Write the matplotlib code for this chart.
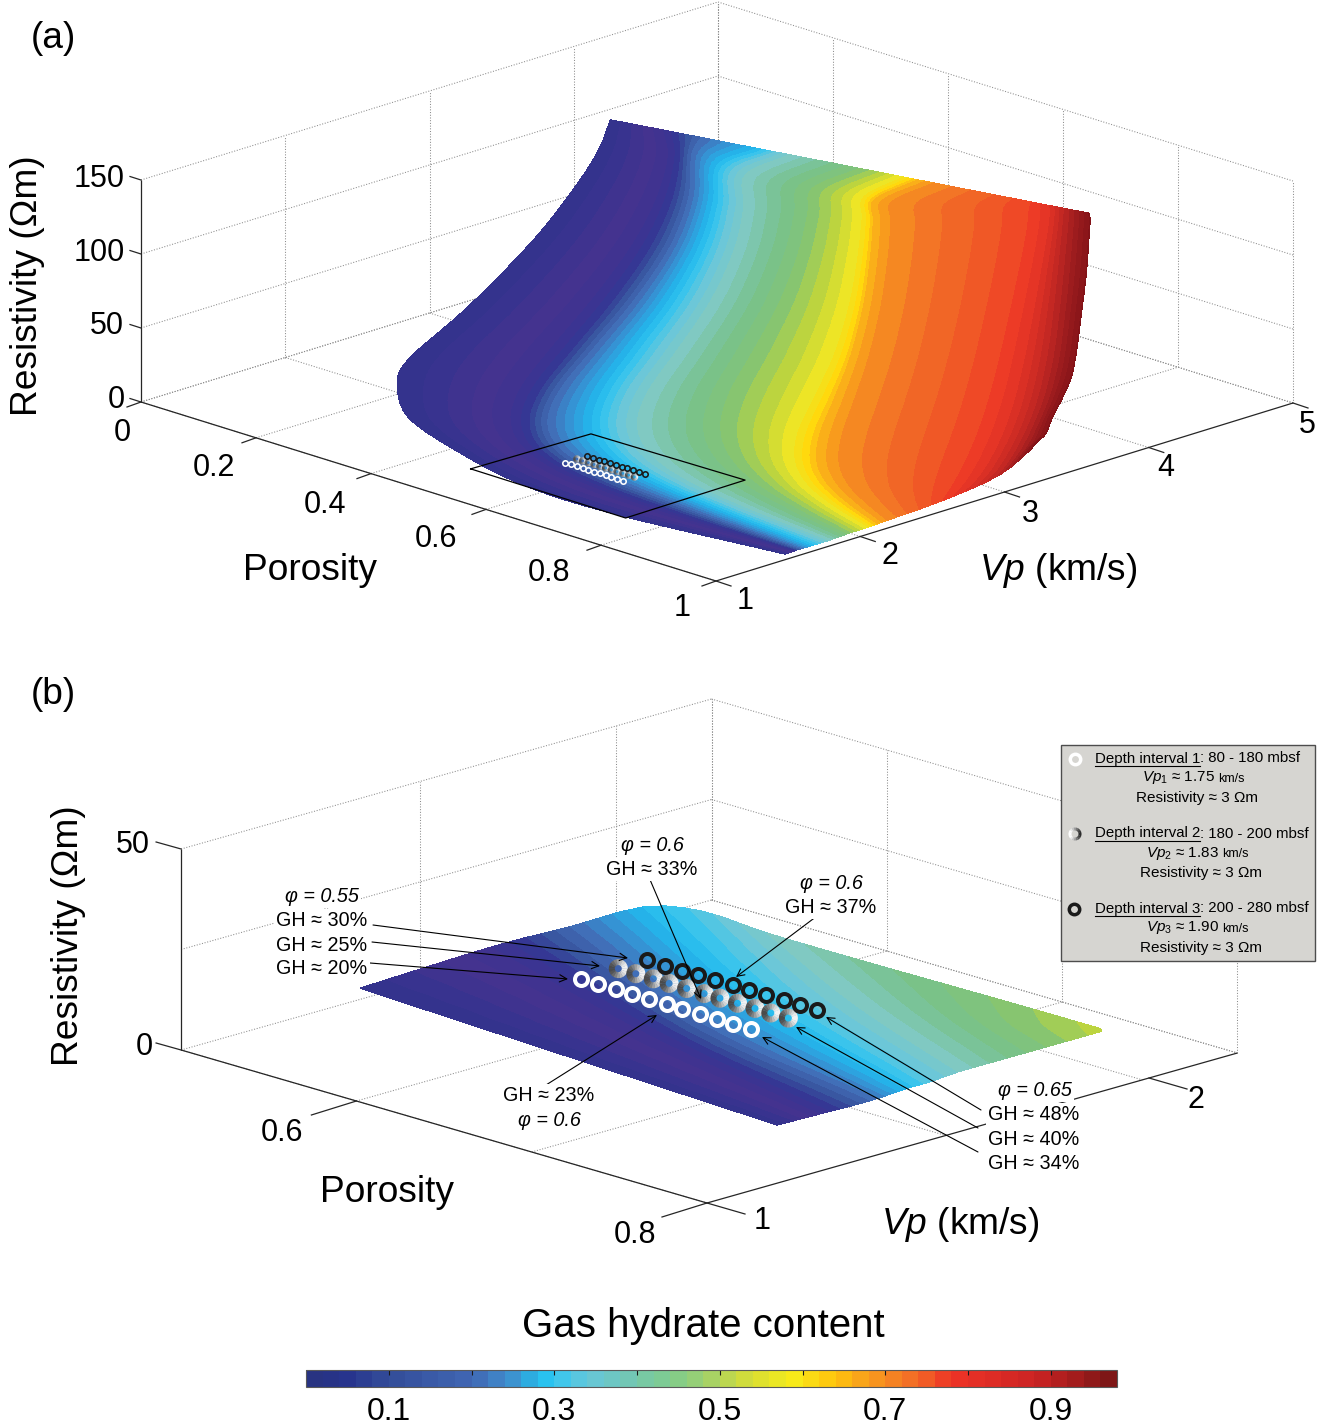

import numpy as np, matplotlib
matplotlib.use('Agg')
import matplotlib.pyplot as plt
from matplotlib.colors import ListedColormap, BoundaryNorm, LinearSegmentedColormap
from matplotlib.cm import ScalarMappable
from matplotlib.patches import Wedge, Rectangle
from matplotlib.ticker import NullLocator
from matplotlib.tri import Triangulation

plt.rcParams['font.family'] = ['Liberation Sans', 'DejaVu Sans']
plt.rcParams['mathtext.fontset'] = 'custom'
plt.rcParams['mathtext.rm'] = 'Liberation Sans'
plt.rcParams['mathtext.it'] = 'Liberation Sans:italic'

# ---------------- data: panel (a) surface, rows along gas hydrate isolines
gh_a = [0, .1, .2, .3, .4, .5, .6, .7, .8, .9, 1.0]
phi_a = [
[1.00,1.00,1.00,1.00,1.00,1.00,1.00,1.00,1.00,1.00,1.00],
[0.75,0.78,0.80,0.82,0.85,0.88,0.90,0.92,0.95,0.98,1.00],
[0.60,0.64,0.68,0.72,0.76,0.80,0.84,0.88,0.92,0.96,1.00],
[0.42,0.48,0.54,0.59,0.65,0.71,0.77,0.83,0.88,0.94,1.00],
[0.30,0.37,0.44,0.51,0.58,0.65,0.72,0.79,0.86,0.93,1.00],
[0.25,0.32,0.40,0.48,0.55,0.62,0.70,0.77,0.85,0.92,1.00],
[0.22,0.30,0.38,0.45,0.53,0.61,0.69,0.77,0.84,0.92,1.00],
[0.20,0.28,0.36,0.44,0.52,0.60,0.68,0.76,0.84,0.92,1.00],
[0.19,0.27,0.35,0.43,0.51,0.60,0.68,0.76,0.84,0.92,1.00],
[0.18,0.26,0.34,0.43,0.51,0.59,0.67,0.75,0.84,0.92,1.00],
[0.17,0.25,0.34,0.42,0.50,0.58,0.67,0.75,0.83,0.92,1.00],
[0.17,0.25,0.34,0.42,0.50,0.58,0.67,0.75,0.83,0.92,1.00]]
vp_a = [
[1.479,1.543,1.591,1.672,1.785,1.914,2.059,2.189,2.576,2.963,3.189],
[1.281,1.355,1.372,1.454,1.721,1.989,2.168,2.346,2.807,3.075,3.205],
[1.233,1.397,1.463,1.513,1.725,2.050,2.229,2.376,2.975,3.187,3.237],
[1.467,1.679,1.698,1.790,1.873,2.231,2.411,2.447,3.199,3.315,3.286],
[1.655,1.989,1.936,2.012,2.023,2.325,2.627,2.703,3.392,3.436,3.334],
[1.783,2.285,2.257,2.228,2.272,2.574,2.868,2.879,3.496,3.572,3.415],
[1.974,2.574,2.530,2.509,2.513,2.743,3.085,2.976,3.601,3.637,3.480],
[2.473,3.058,3.061,3.017,3.005,3.138,3.238,3.145,3.698,3.669,3.544],
[2.965,3.356,3.327,3.186,3.109,3.186,3.270,3.161,3.762,3.702,3.570],
[3.295,3.638,3.545,3.315,3.190,3.290,3.343,3.217,3.827,3.734,3.586],
[3.496,3.661,3.464,3.323,3.197,3.346,3.343,3.217,3.851,3.734,3.592],
[3.577,3.629,3.528,3.597,3.504,3.669,3.617,3.508,3.867,3.734,3.583]]
res_a = [
[3.9,4.2,4.3,4.1,4.1,4.7,4.9,5.5,7.3,12.6,23.8],
[7.0,11.8,19.4,21.6,11.5,6.0,4.1,2.3,-1.2,10.2,25.6],
[10.6,12.8,20.1,24.6,17.4,10.2,9.7,10.1,-3.1,7.8,28.0],
[6.6,2.9,9.6,15.2,15.4,8.5,9.2,14.3,-3.4,9.4,31.0],
[6.7,-1.6,7.3,12.3,20.5,19.9,17.0,20.9,10.9,18.1,40.9],
[17.1,8.2,16.5,27.0,34.1,31.3,29.8,38.0,29.1,35.3,54.2],
[25.7,17.3,28.3,37.4,44.7,47.5,44.6,57.6,47.3,55.9,70.3],
[44.3,40.9,50.5,61.5,71.5,77.2,83.9,96.3,89.4,99.9,113.4],
[73.4,69.0,79.6,93.5,105.5,111.8,116.7,129.6,116.7,126.0,135.1],
[98.3,93.1,107.9,123.4,134.6,139.0,144.8,156.0,141.8,152.0,157.2],
[115.8,116.0,133.9,141.1,147.8,144.0,149.3,159.4,144.4,156.5,166.0],
[133.6,134.7,143.7,143.9,152.1,147.6,154.2,163.1,149.1,159.7,170.8]]

# ---------------- data: panel (b) surface
gh_b = [0, .1, .2, .3, .35, .4, .45, .5, .55]
phi_b = [
[0.501,0.497,0.499,0.500,0.521,0.561,0.620,0.686,0.749],
[0.628,0.632,0.632,0.629,0.631,0.657,0.686,0.716,0.751],
[0.754,0.755,0.756,0.754,0.754,0.752,0.752,0.752,0.752]]
vp_b = [
[1.402,1.717,1.886,2.047,2.097,2.085,2.085,2.089,2.091],
[1.371,1.548,1.657,1.791,1.864,1.904,1.956,2.013,2.087],
[1.341,1.437,1.546,1.632,1.686,1.759,1.851,1.959,2.078]]
res_b = 3.0

# ---------------- data: well-log points and the zoom frame
phi_points_a = [.55,.56,.57,.58,.59,.60,.61,.62,.63,.64,.65]
phi_points_b = [.554,.564,.574,.583,.593,.603,.612,.622,.632,.641,.651]
vp_points_a = [1.75, 1.83, 1.90]
vp_points_b = [1.69, 1.775, 1.84]
res_points = 3.0
frame_phi = [.473,.479,.742,.745,.473]
frame_vp = [1.40,2.21,2.23,1.39,1.40]

# ---------------- data: axes
phi_ticks_a = [0,.2,.4,.6,.8,1]; vp_ticks_a = [1,2,3,4,5]; res_ticks_a = [0,50,100,150]
phi_lim_a = (0,1); vp_lim_a = (1,5); res_lim_a = (0,150)
phi_ticks_b = [.6,.8]; vp_ticks_b = [1,2]; res_ticks_b = [0,50]
phi_grid_b = [.6,.7,.8]; vp_grid_b = [1,1.54,1.985,2.2]; res_grid_b = [0,25,50]
phi_lim_b = (.5,.8); vp_lim_b = (1,2.2); res_lim_b = (0,50)

cbar_bounds = np.arange(0,.9801,.02)
cbar_ticks = [.1,.3,.5,.7,.9]
cbar_minor = [.1,.2,.3,.4,.5,.6,.7,.8,.9]

surf_nodes = [(0,(.2,.2,.55)),(.03,(.22,.2,.56)),(.06,(.27,.2,.56)),(.1,(.24,.2,.57)),(.13,(.2,.22,.58)),
 (.16,(.22,.33,.62)),(.2,(.26,.42,.71)),(.25,(.2,.6,.85)),(.29,(.13,.72,.93)),(.32,(.22,.77,.93)),
 (.36,(.42,.78,.85)),(.4,(.5,.79,.76)),(.45,(.47,.76,.55)),(.5,(.52,.77,.45)),(.54,(.73,.83,.25)),
 (.58,(.93,.9,.15)),(.62,(1,.85,.05)),(.66,(.98,.68,.1)),(.72,(.95,.45,.15)),(.8,(.93,.22,.15)),
 (.87,(.78,.16,.14)),(.93,(.62,.11,.12)),(1,(.5,.07,.09))]
bar_nodes = [(0,(.16,.2,.5)),(.05,(.15,.2,.55)),(.1,(.2,.3,.6)),(.2,(.25,.4,.7)),(.25,(.25,.55,.8)),
 (.29,(.13,.75,.93)),(.3,(.2,.78,.95)),(.35,(.4,.78,.85)),(.4,(.45,.78,.7)),(.45,(.5,.8,.55)),
 (.5,(.65,.82,.4)),(.55,(.85,.87,.2)),(.6,(.97,.93,.1)),(.65,(1,.77,.05)),(.7,(.97,.6,.12)),
 (.75,(.95,.42,.15)),(.8,(.93,.2,.15)),(.9,(.8,.14,.14)),(1,(.47,.08,.08))]

# ---------------- figure
fig = plt.figure(figsize=(13.27,14.24), dpi=100)
ax = fig.add_axes([0,0,1,1])
ax.set_xlim(0,1327); ax.set_ylim(1424,0); ax.axis('off')

class Box:
    """Oblique projection of (porosity, Vp, resistivity) on to the page."""
    def __init__(s, phi_lim, vp_lim, res_lim, corner, dphi, dvp, dres):
        s.phi0, s.vp0 = phi_lim[1], vp_lim[0]
        s.pl, s.vl, s.rl = phi_lim, vp_lim, res_lim
        s.c, s.dp, s.dv, s.dr = corner, dphi, dvp, dres
    def __call__(s, phi, vp, res):
        phi, vp, res = map(lambda a: np.asarray(a, float), (phi, vp, res))
        x = s.c[0] + s.dp[0]*(phi-s.phi0) + s.dv[0]*(vp-s.vp0)
        y = s.c[1] + s.dp[1]*(phi-s.phi0) + s.dv[1]*(vp-s.vp0) - s.dr*res
        return x, y

GREY = (.55,.55,.55)
def line(P, phi, vp, res, **kw):
    n = max(np.size(phi), np.size(vp), np.size(res))
    x, y = P(np.broadcast_to(phi,(n,)), np.broadcast_to(vp,(n,)), np.broadcast_to(res,(n,)))
    ax.plot(x, y, solid_capstyle='butt', **kw)

def walls(P, vgrid, pgrid, rgrid):
    st = dict(color=GREY, lw=.75, ls=(0,(1,1.6)), zorder=1)
    p0, p1 = P.pl; v0, v1 = P.vl; r0, r1 = P.rl
    for r in rgrid:
        line(P, p0, [v0,v1], r, **st); line(P, [p0,p1], v1, r, **st)
    for v in vgrid:
        if v != v0: line(P, p0, v, [r0,r1], **st)
        line(P, [p0,p1], v, 0, **st)
    for p in pgrid:
        line(P, p, v1, [r0,r1], **st)
        line(P, p, [v0,v1], 0, **st)
    line(P, p0, v1, [r0,r1], **st)
    line(P, p1, v1, [r0,r1], **st)
    ax_st = dict(color=(.15,.15,.15), lw=.9, zorder=2)
    line(P, [p0,p1], v0, 0, **ax_st); line(P, p1, [v0,v1], 0, **ax_st); line(P, p0, v0, [r0,r1], **ax_st)

levels = np.arange(0,1.0201,.02)
mids = (levels[:-1]+levels[1:])/2
surf_cmap = ListedColormap(LinearSegmentedColormap.from_list('s', surf_nodes)(mids/1.02))

def catmull(a, k):
    """Smooth display of a table along its first axis."""
    a = np.asarray(a, float)
    p = np.vstack([2*a[0]-a[1], a, 2*a[-1]-a[-2]])
    out = []
    for i in range(1, len(p)-2):
        for t in np.arange(k)/k:
            out.append(.5*(2*p[i] + (p[i+1]-p[i-1])*t + (2*p[i-1]-5*p[i]+4*p[i+1]-p[i+2])*t**2
                           + (3*p[i]-p[i-1]-3*p[i+1]+p[i+2])*t**3))
    out.append(a[-1])
    return np.array(out)

def surface(P, phi, vp, res, gh, relax=False):
    phi = np.array(phi); vp = np.array(vp)
    res = np.full(phi.shape, res) if np.ndim(res) == 0 else np.array(res)
    x, y = P(phi, vp, res)
    g = np.tile(np.asarray(gh,float), (phi.shape[0],1))
    if relax:
        for _ in range(2):
            for a in (x, y):
                a[1:-2,1:-1] = .25*a[:-3,1:-1] + .5*a[1:-2,1:-1] + .25*a[2:-1,1:-1]
    up = lambda a: catmull(catmull(a, 5).T, 3).T
    x, y, g = up(x), up(y), up(g)
    nr, nc = x.shape
    tris = []
    for i in range(nr-1):
        for j in range(nc-1):
            a = i*nc+j; b = a+1; c = a+nc; d = c+1
            tris += [[a,b,d],[a,d,c]]
    tr = Triangulation(x.ravel(), y.ravel(), tris)
    cs = ax.tricontourf(tr, g.ravel(), levels=levels, cmap=surf_cmap, vmin=0, vmax=1.02, zorder=3)
    cs.set_edgecolor('face'); cs.set_linewidth(.4)

def ring(xc, yc, r, w, flip=False, zorder=6):
    n = 18
    for k in range(n):
        a0 = 360*k/n; a1 = 360*(k+1)/n
        c = np.cos(np.radians((a0+a1)/2))
        g = .62 + (.33*c if not flip else -.45*c)
        g = min(max(g, 0), 1)
        ax.add_patch(Wedge((xc,yc), r, a0-1, a1+1, width=w, fc=(g,g,g), ec='none', zorder=zorder))

def points(P, phis, vps, outer, thick, gouter, gthick):
    px = .72
    cols = ['white', None, (.1,.1,.1)]
    phi = np.array(phis)
    for v, c in zip(vps, cols):
        x, y = P(phi, np.full(phi.shape, v), np.full(phi.shape, res_points))
        if c is None:
            for a, b in zip(x, y): ring(a, b, gouter/2, gthick)
        else:
            ax.plot(x, y, 'o', mfc='none', mec=c, ms=(outer-thick)*px, mew=thick*px, ls='none', zorder=7)

LAB = 26.7; TICK = 22; DY = 3
def tick_text(x, y, s, **kw):
    ax.text(x, y+DY, s, ha='center', va='center', fontsize=TICK, color='black', **kw)
def label(x, y, s, **kw):
    ax.text(x, y+DY, s, ha='center', va='center', fontsize=LAB, **kw)

# ---------------- panel (a)
A = Box(phi_lim_a, vp_lim_a, res_lim_a, (716,581), (575,179), (144.25,-44.5), 1.48)
walls(A, vp_ticks_a, phi_ticks_a[:-1], res_ticks_a)
surface(A, phi_a, vp_a, res_a, gh_a, relax=True)
x, y = A(frame_phi, frame_vp, np.zeros(5))
ax.plot(x, y, color='black', lw=.9, zorder=5)
points(A, phi_points_a, vp_points_a, 7, 1.6, 7.5, 2.4)

tk = dict(color=(.15,.15,.15), lw=.9, zorder=2)
for r, lab_xy in zip(res_ticks_a, [(116,397),(107,323),(99,250),(99,176)]):
    x0, y0 = A(0,1,r); ax.plot([x0,x0-11],[y0,y0-3.5], **tk)
    tick_text(lab_xy[0], lab_xy[1], f'{r}')
for p, lab_xy in zip(phi_ticks_a, [(122,430),(214,465),(325,502),(436,536),(549,570),(682,605)]):
    x0, y0 = A(p,1,0); ax.plot([x0,x0-14],[y0,y0+5], **tk)
    tick_text(lab_xy[0], lab_xy[1], f'{p:g}')
for v, lab_xy in zip(vp_ticks_a, [(745,598),(890,553),(1030,511),(1166,465),(1307,422)]):
    x0, y0 = A(1,v,0); ax.plot([x0,x0+15],[y0,y0+5], **tk)
    tick_text(lab_xy[0], lab_xy[1], f'{v}')
label(28,283,'Resistivity (Ωm)', rotation=90)
label(310,568,'Porosity')
label(1058,568,r'$\mathit{Vp}$ (km/s)')
label(53,35,'(a)')

# ---------------- panel (b)
B = Box(phi_lim_b, vp_lim_b, res_lim_b, (707,1203), (1753,510), (442,-125), 4.02)
walls(B, vp_grid_b, phi_grid_b[:-1], res_grid_b)
surface(B, phi_b, vp_b, res_b, gh_b)
points(B, phi_points_b, vp_points_b, 17, 4, 19, 6)
for r, lab_xy in zip(res_ticks_b, [(144,1044),(133,842)]):
    x0, y0 = B(.5,1,r); ax.plot([x0,x0-25],[y0,y0-7], **tk)
    tick_text(lab_xy[0], lab_xy[1], f'{r}')
for p, lab_xy in zip(phi_ticks_b, [(282,1130),(635,1232)]):
    x0, y0 = B(p,1,0); ax.plot([x0,x0-45],[y0,y0+14], **tk)
    tick_text(lab_xy[0], lab_xy[1], f'{p:g}')
for v, lab_xy in zip(vp_ticks_b, [(762,1218),(1196,1097)]):
    x0, y0 = B(.8,v,0); ax.plot([x0,x0+38],[y0,y0+11], **tk)
    tick_text(lab_xy[0], lab_xy[1], f'{v}')
label(68,933,'Resistivity (Ωm)', rotation=90)
label(387,1190,'Porosity')
label(960,1221,r'$\mathit{Vp}$ (km/s)')
label(53,691,'(b)')

# annotations
AN = 14.2
def note(x, y, s, italic=False):
    ax.text(x, y+1.5, s, ha='center', va='center', fontsize=AN, style='italic' if italic else 'normal', zorder=9,
            bbox=dict(fc='white', ec='none', pad=1.5))
def arrow(p0, p1):
    ax.annotate('', xy=p1, xytext=p0, arrowprops=dict(arrowstyle='->', color='black', lw=.8,
                mutation_scale=13, shrinkA=0, shrinkB=0), zorder=8)
note(322,895,'φ = 0.55',True); note(322,919,'GH ≈ 30%'); note(322,944,'GH ≈ 25%'); note(322,967,'GH ≈ 20%')
arrow((373,925),(628,958)); arrow((372,942),(600,966)); arrow((370,963),(568,979))
note(652,844,'φ = 0.6',True); note(652,868,'GH ≈ 33%'); arrow((648,875),(701,999))
note(831,882,'φ = 0.6',True); note(831,906,'GH ≈ 37%'); arrow((821,913),(736,977))
note(549,1094,'GH ≈ 23%'); note(549,1119,'φ = 0.6',True); arrow((546,1085),(657,1015))
note(1035,1089,'φ = 0.65',True); note(1034,1113,'GH ≈ 48%'); note(1034,1138,'GH ≈ 40%'); note(1034,1162,'GH ≈ 34%')
arrow((981,1110),(826,1017)); arrow((978,1128),(796,1027)); arrow((978,1152),(762,1037))

# legend box
ax.add_patch(Rectangle((1061,745),254,216, fc=(.84,.835,.82), ec=(.3,.3,.3), lw=1, zorder=10))
renderer = fig.canvas.get_renderer()
inv = ax.transData.inverted()
LG = 10.8; LG2 = 11.0
entries = [('Depth interval 1',': 80 - 180 mbsf','1','1.75',758,1197),
           ('Depth interval 2',': 180 - 200 mbsf','2','1.83',833,1201),
           ('Depth interval 3',': 200 - 280 mbsf','3','1.90',908,1201)]
for u, rest, sub, val, y0, xc in entries:
    t = ax.text(1095,y0+.5,u,ha='left',va='center',fontsize=LG,zorder=11)
    bb = t.get_window_extent(renderer)
    xe = inv.transform((bb.x1,bb.y0))[0]
    ax.plot([1095,xe],[y0+7.5,y0+7.5],color='black',lw=.8,zorder=11)
    ax.text(xe,y0+.5,rest,ha='left',va='center',fontsize=LG,zorder=11)
    ax.text(xc+18,y0+20,rf'$\mathit{{Vp}}_{{{sub}}}$ ≈ {val}',ha='right',va='center',fontsize=LG2,zorder=11)
    ax.text(xc+21,y0+21,'km/s',ha='left',va='center',fontsize=9,zorder=11)
    ax.text(xc,y0+40,'Resistivity ≈ 3 Ωm',ha='center',va='center',fontsize=LG2,zorder=11)
ax.plot([1075],[759],'o',mfc='none',mec='white',ms=7.5,mew=2.5,zorder=12)
ring(1075,834,6.5,3,flip=True,zorder=12)
ax.plot([1074],[909],'o',mfc='none',mec=(.1,.1,.1),ms=7.5,mew=2.5,zorder=12)

# ---------------- colour bar
ax.text(703,1326,'Gas hydrate content',ha='center',va='center',fontsize=29)
cax = fig.add_axes([306/1327, 1-1387/1424, 811/1327, 17/1424])
bar_mids = (cbar_bounds[:-1]+cbar_bounds[1:])/2
bar_cmap = ListedColormap(LinearSegmentedColormap.from_list('b', bar_nodes)(bar_mids/.98))
sm = ScalarMappable(norm=BoundaryNorm(cbar_bounds, len(bar_mids)), cmap=bar_cmap)
cb = fig.colorbar(sm, cax=cax, orientation='horizontal', ticks=cbar_ticks, spacing='proportional', drawedges=False)
cb.ax.xaxis.set_minor_locator(NullLocator())
cb.ax.tick_params(axis='x', which='both', length=0, labelsize=23, pad=7)
cb.ax.set_xticklabels([f'{t:g}' for t in cbar_ticks])
cb.outline.set_edgecolor((.35,.35,.35)); cb.outline.set_linewidth(.8)
cax.vlines(cbar_minor, .72, 1, color=(.1,.1,.1), lw=.8)

fig.savefig('out.png', dpi=100)
